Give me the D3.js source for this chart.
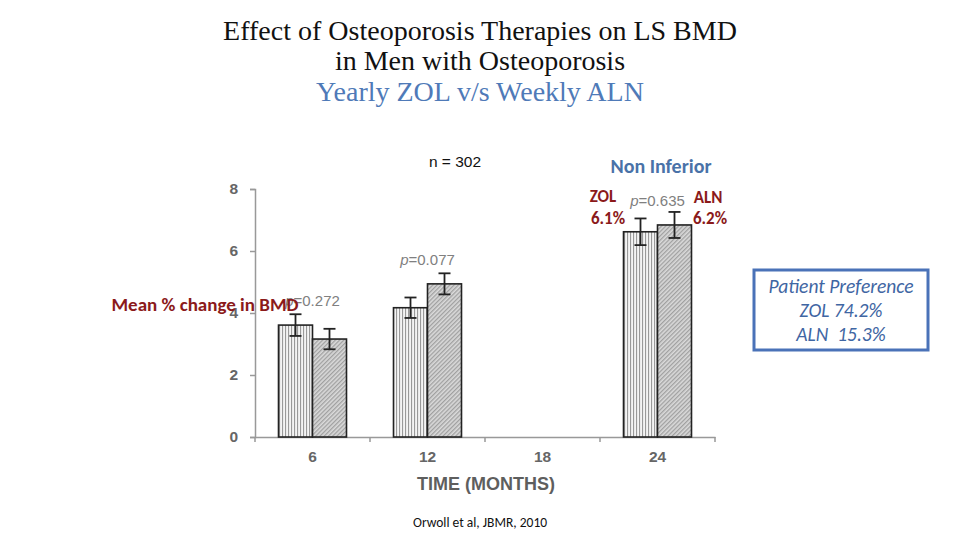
<!DOCTYPE html>
<html><head><meta charset="utf-8">
<script src="https://cdn.jsdelivr.net/npm/d3@7"></script>
<style>body{margin:0;background:#fff}svg{display:block}</style>
</head><body><svg id="c" width="960" height="540"></svg>
<script>
const categories = ["6", "12", "18", "24"];
const seriesNames = ["ZOL", "ALN"];
const zolValues = [3.61, 4.17, null, 6.62];
const zolErrors = [0.35, 0.33, null, 0.43];
const alnValues = [3.16, 4.94, null, 6.84];
const alnErrors = [0.33, 0.34, null, 0.42];
const pValues = ["p=0.272", "p=0.077", null, "p=0.635"];
const yTicks = [0, 2, 4, 6, 8];
const meanChangeLabels = ["6.1%", "6.2%"];

const svg = d3.select("#c");
const defs = svg.append("defs");
const pv = defs.append("pattern").attr("id","vstripe").attr("patternUnits","userSpaceOnUse").attr("width",3).attr("height",4);
pv.append("rect").attr("width",3).attr("height",4).attr("fill","#f4f4f4");
pv.append("rect").attr("x",0).attr("width",1.1).attr("height",4).attr("fill","#999");
const pd = defs.append("pattern").attr("id","dhatch").attr("patternUnits","userSpaceOnUse").attr("width",3).attr("height",3).attr("patternTransform","rotate(45)");
pd.append("rect").attr("width",3).attr("height",3).attr("fill","#dadada");
pd.append("rect").attr("width",1.3).attr("height",3).attr("fill","#a0a0a0");

const x0 = d3.scaleBand().domain(categories).range([255, 715]).paddingInner(0).paddingOuter(0);
const x1 = d3.scaleBand().domain(seriesNames).range([0, 68]);
const y = d3.scaleLinear().domain([0, 8]).range([437, 189]);

const title = svg.append("g").attr("font-family","'Liberation Serif','Times New Roman',serif").attr("font-size",28).attr("text-anchor","middle");
title.append("text").attr("x",480).attr("y",40).attr("fill","#111").text("Effect of Osteoporosis Therapies on LS BMD");
title.append("text").attr("x",480).attr("y",70).attr("fill","#111").text("in Men with Osteoporosis");
title.append("text").attr("x",480).attr("y",101).attr("fill","#4f7ab8").text("Yearly ZOL v/s Weekly ALN");

const arial = "'Liberation Sans',Arial,sans-serif";
const yAxis = svg.append("g").attr("transform","translate(255,0)")
  .call(d3.axisLeft(y).tickValues(yTicks).tickSize(5).tickPadding(12));
yAxis.select(".domain").attr("stroke","#999").attr("stroke-width",1.5);
yAxis.selectAll(".tick line").attr("stroke","#999").attr("stroke-width",1.5);
yAxis.selectAll("text").attr("font-family",arial).attr("font-size",15.5).attr("font-weight","bold").attr("fill","#666");

const xAxis = svg.append("g").attr("transform","translate(0,437)")
  .call(d3.axisBottom(x0).tickSize(0).tickPadding(14));
xAxis.select(".domain").attr("stroke","#999").attr("stroke-width",1.5);
xAxis.selectAll("text").attr("font-family",arial).attr("font-size",15.5).attr("font-weight","bold").attr("fill","#666");
const bounds = categories.map(c => x0(c)).concat([x0.range()[1]]);
svg.append("g").selectAll("line").data(bounds).join("line")
  .attr("x1",d=>d).attr("x2",d=>d).attr("y1",437).attr("y2",442).attr("stroke","#999").attr("stroke-width",1.5);

svg.append("text").attr("x",486).attr("y",490).attr("text-anchor","middle")
  .attr("font-family",arial).attr("font-size",18).attr("font-weight","bold").attr("fill","#5e5e5e")
  .text("TIME (MONTHS)");

const data = [];
categories.forEach((c,i) => {
  if (zolValues[i] != null) data.push({c, s:"ZOL", v:zolValues[i], e:zolErrors[i]});
  if (alnValues[i] != null) data.push({c, s:"ALN", v:alnValues[i], e:alnErrors[i]});
});
const bx = d => x0(d.c) + (x0.bandwidth()-68)/2 + x1(d.s);
svg.append("g").selectAll("rect").data(data).join("rect")
  .attr("x", bx).attr("y", d=>y(d.v)).attr("width", x1.bandwidth()).attr("height", d=>y(0)-y(d.v))
  .attr("fill", d=> d.s==="ZOL" ? "url(#vstripe)" : "url(#dhatch)")
  .attr("stroke","#222").attr("stroke-width",1.6);

const eg = svg.append("g").attr("stroke","#222").attr("stroke-width",1.8);
data.forEach(d => {
  const cx = bx(d) + x1.bandwidth()/2;
  eg.append("line").attr("x1",cx).attr("x2",cx).attr("y1",y(d.v+d.e)).attr("y2",y(d.v-d.e));
  eg.append("line").attr("x1",cx-6).attr("x2",cx+6).attr("y1",y(d.v+d.e)).attr("y2",y(d.v+d.e));
  eg.append("line").attr("x1",cx-6).attr("x2",cx+6).attr("y1",y(d.v-d.e)).attr("y2",y(d.v-d.e));
});

const pPos = [4.38, 5.7, null, 7.6];
categories.forEach((c,i) => {
  if (!pValues[i]) return;
  const t = svg.append("text").attr("x", x0(c)+x0.bandwidth()/2).attr("y", y(pPos[i])+5)
    .attr("text-anchor","middle").attr("font-family",arial)
    .attr("font-size",15).attr("fill","#808080");
  t.append("tspan").attr("font-style","italic").text(pValues[i].slice(0,1));
  t.append("tspan").text(pValues[i].slice(1));
});

const cal = "Carlito,Lato,'Open Sans',sans-serif";
svg.append("text").attr("x",205).attr("y",311).attr("text-anchor","middle").attr("font-family",cal)
  .attr("font-size",19).attr("font-weight","bold").attr("fill","#8b1a1a").text("Mean % change in BMD");
svg.append("text").attr("x",455).attr("y",167).attr("text-anchor","middle").attr("font-family",arial)
  .attr("font-size",15.5).attr("fill","#111").text("n = 302");
svg.append("text").attr("x",661).attr("y",173).attr("text-anchor","middle").attr("font-family",cal)
  .attr("font-size",20).attr("font-weight","bold").attr("fill","#4a72a8").text("Non Inferior");
const red = svg.append("g").attr("font-family",cal).attr("font-size",17).attr("font-weight","bold").attr("fill","#8b1a1a").attr("text-anchor","middle");
red.append("text").attr("x",603).attr("y",202).text("ZOL");
red.append("text").attr("x",608).attr("y",224).text(meanChangeLabels[0]);
red.append("text").attr("x",708).attr("y",203).text("ALN");
red.append("text").attr("x",710).attr("y",224).text(meanChangeLabels[1]);

svg.append("text").attr("x",480).attr("y",527).attr("text-anchor","middle").attr("font-family",cal)
  .attr("font-size",13.5).attr("fill","#111").text("Orwoll et al, JBMR, 2010");

svg.append("rect").attr("x",754).attr("y",270).attr("width",174).attr("height",80)
  .attr("fill","#fff").attr("stroke","#4a72b8").attr("stroke-width",3);
const pp = svg.append("g").attr("font-family",cal).attr("font-size",19.5).attr("font-style","italic").attr("fill","#3f66a3").attr("text-anchor","middle");
pp.append("text").attr("x",841).attr("y",293).text("Patient Preference");
pp.append("text").attr("x",841).attr("y",317).text("ZOL 74.2%");
pp.append("text").attr("x",841).attr("y",341).attr("xml:space","preserve").text("ALN  15.3%");
</script></body></html>
